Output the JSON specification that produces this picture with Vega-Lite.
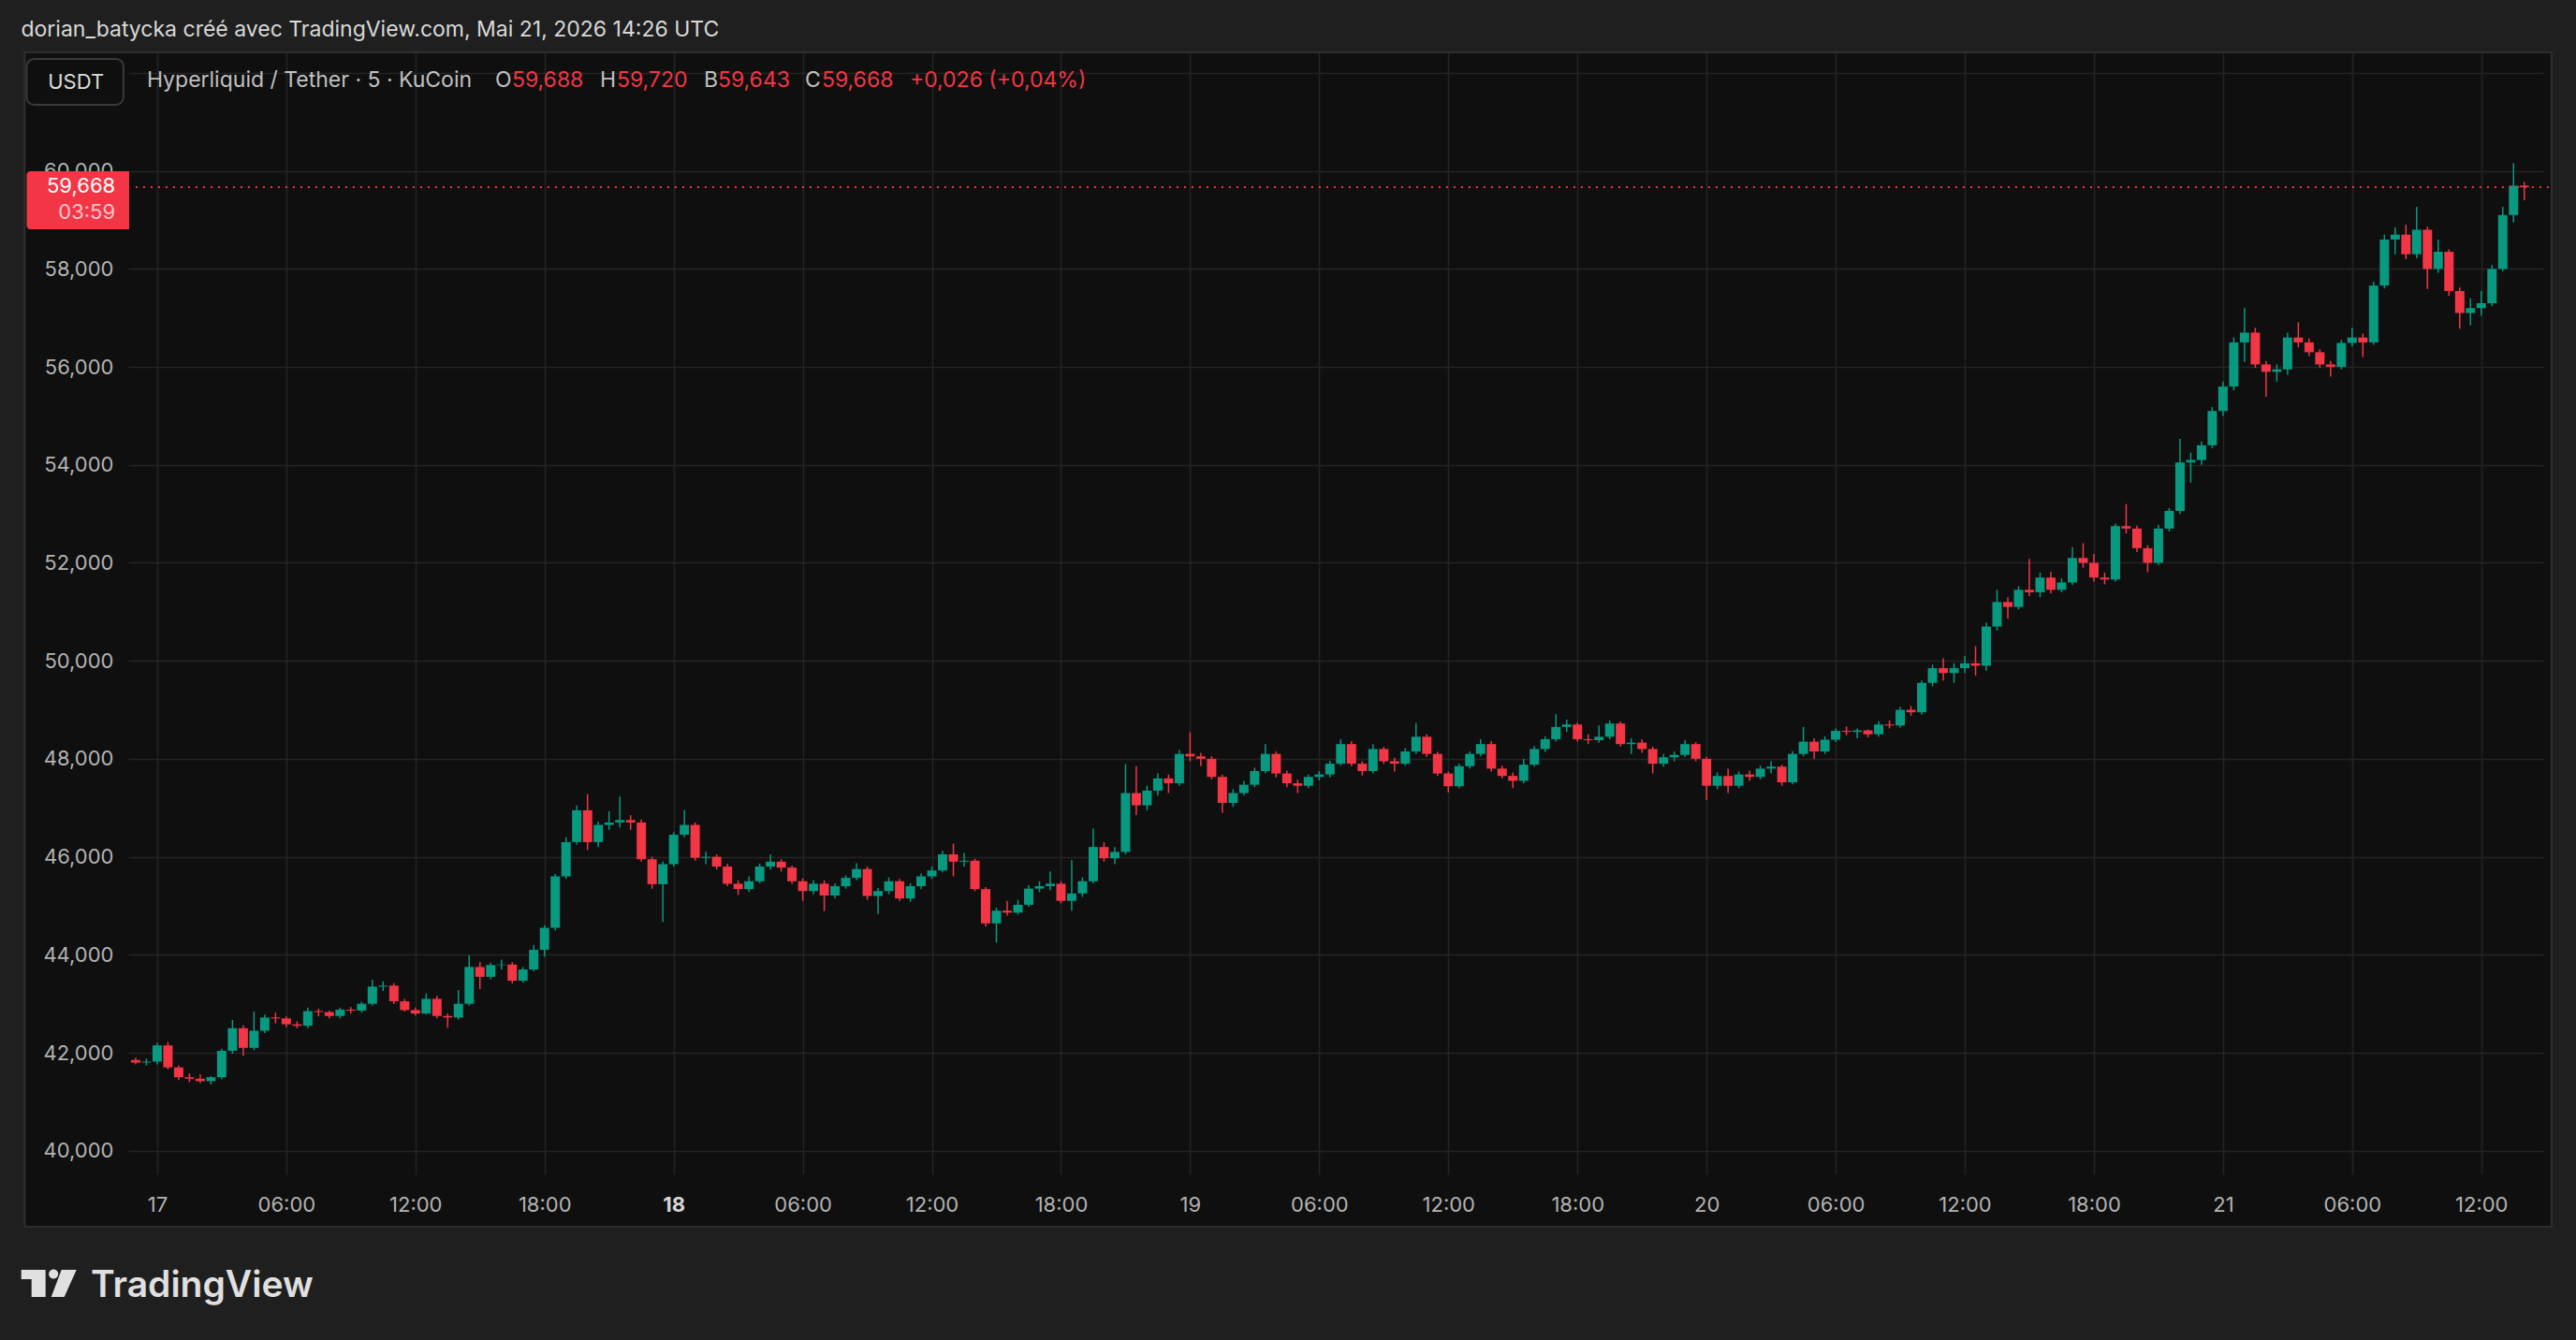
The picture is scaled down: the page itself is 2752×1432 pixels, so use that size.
{
  "$schema": "https://vega.github.io/schema/vega-lite/v6.json",
  "width": 2580,
  "height": 1199,
  "autosize": {"type": "none"},
  "padding": {"left": 137, "top": 56, "right": 35, "bottom": 177},
  "background": "#0f0f0f",
  "datasets": {
    "candles": [
      {"t":"2026-05-16T23:00","o":41.85,"h":41.90,"l":41.76,"c":41.80},
      {"t":"2026-05-16T23:30","o":41.80,"h":41.88,"l":41.74,"c":41.82},
      {"t":"2026-05-17T00:00","o":41.82,"h":42.20,"l":41.76,"c":42.15},
      {"t":"2026-05-17T00:30","o":42.15,"h":42.22,"l":41.66,"c":41.70},
      {"t":"2026-05-17T01:00","o":41.70,"h":41.74,"l":41.44,"c":41.50},
      {"t":"2026-05-17T01:30","o":41.50,"h":41.58,"l":41.40,"c":41.47},
      {"t":"2026-05-17T02:00","o":41.47,"h":41.56,"l":41.38,"c":41.42},
      {"t":"2026-05-17T02:30","o":41.42,"h":41.52,"l":41.35,"c":41.50},
      {"t":"2026-05-17T03:00","o":41.50,"h":42.08,"l":41.46,"c":42.04},
      {"t":"2026-05-17T03:30","o":42.04,"h":42.67,"l":41.98,"c":42.50},
      {"t":"2026-05-17T04:00","o":42.50,"h":42.56,"l":41.94,"c":42.10},
      {"t":"2026-05-17T04:30","o":42.10,"h":42.84,"l":42.05,"c":42.45},
      {"t":"2026-05-17T05:00","o":42.45,"h":42.78,"l":42.40,"c":42.72},
      {"t":"2026-05-17T05:30","o":42.72,"h":42.82,"l":42.60,"c":42.70},
      {"t":"2026-05-17T06:00","o":42.70,"h":42.74,"l":42.52,"c":42.58},
      {"t":"2026-05-17T06:30","o":42.58,"h":42.64,"l":42.50,"c":42.55},
      {"t":"2026-05-17T07:00","o":42.55,"h":42.92,"l":42.50,"c":42.85},
      {"t":"2026-05-17T07:30","o":42.85,"h":42.90,"l":42.74,"c":42.83},
      {"t":"2026-05-17T08:00","o":42.83,"h":42.86,"l":42.70,"c":42.75},
      {"t":"2026-05-17T08:30","o":42.75,"h":42.92,"l":42.70,"c":42.88},
      {"t":"2026-05-17T09:00","o":42.88,"h":42.93,"l":42.80,"c":42.86},
      {"t":"2026-05-17T09:30","o":42.86,"h":43.04,"l":42.82,"c":43.00},
      {"t":"2026-05-17T10:00","o":43.00,"h":43.49,"l":42.96,"c":43.35},
      {"t":"2026-05-17T10:30","o":43.35,"h":43.46,"l":43.26,"c":43.37},
      {"t":"2026-05-17T11:00","o":43.37,"h":43.42,"l":43.00,"c":43.05},
      {"t":"2026-05-17T11:30","o":43.05,"h":43.10,"l":42.84,"c":42.87},
      {"t":"2026-05-17T12:00","o":42.87,"h":42.92,"l":42.76,"c":42.80},
      {"t":"2026-05-17T12:30","o":42.80,"h":43.21,"l":42.78,"c":43.10},
      {"t":"2026-05-17T13:00","o":43.10,"h":43.16,"l":42.70,"c":42.75},
      {"t":"2026-05-17T13:30","o":42.75,"h":42.80,"l":42.51,"c":42.72},
      {"t":"2026-05-17T14:00","o":42.72,"h":43.28,"l":42.68,"c":43.00},
      {"t":"2026-05-17T14:30","o":43.00,"h":43.99,"l":42.96,"c":43.75},
      {"t":"2026-05-17T15:00","o":43.75,"h":43.85,"l":43.30,"c":43.55},
      {"t":"2026-05-17T15:30","o":43.55,"h":43.84,"l":43.50,"c":43.79},
      {"t":"2026-05-17T16:00","o":43.79,"h":43.90,"l":43.70,"c":43.80},
      {"t":"2026-05-17T16:30","o":43.80,"h":43.85,"l":43.42,"c":43.47},
      {"t":"2026-05-17T17:00","o":43.47,"h":43.75,"l":43.43,"c":43.70},
      {"t":"2026-05-17T17:30","o":43.70,"h":44.20,"l":43.66,"c":44.10},
      {"t":"2026-05-17T18:00","o":44.10,"h":44.60,"l":43.96,"c":44.55},
      {"t":"2026-05-17T18:30","o":44.55,"h":45.65,"l":44.50,"c":45.60},
      {"t":"2026-05-17T19:00","o":45.60,"h":46.40,"l":45.55,"c":46.30},
      {"t":"2026-05-17T19:30","o":46.30,"h":47.05,"l":46.25,"c":46.95},
      {"t":"2026-05-17T20:00","o":46.95,"h":47.28,"l":46.14,"c":46.30},
      {"t":"2026-05-17T20:30","o":46.30,"h":46.72,"l":46.20,"c":46.65},
      {"t":"2026-05-17T21:00","o":46.65,"h":46.93,"l":46.55,"c":46.70},
      {"t":"2026-05-17T21:30","o":46.70,"h":47.23,"l":46.60,"c":46.75},
      {"t":"2026-05-17T22:00","o":46.75,"h":46.85,"l":46.55,"c":46.70},
      {"t":"2026-05-17T22:30","o":46.70,"h":46.76,"l":45.90,"c":45.95},
      {"t":"2026-05-17T23:00","o":45.95,"h":46.00,"l":45.35,"c":45.44},
      {"t":"2026-05-17T23:30","o":45.44,"h":45.90,"l":44.67,"c":45.85},
      {"t":"2026-05-18T00:00","o":45.85,"h":46.50,"l":45.80,"c":46.45},
      {"t":"2026-05-18T00:30","o":46.45,"h":46.95,"l":46.40,"c":46.65},
      {"t":"2026-05-18T01:00","o":46.65,"h":46.70,"l":45.92,"c":45.98},
      {"t":"2026-05-18T01:30","o":45.98,"h":46.10,"l":45.85,"c":46.00},
      {"t":"2026-05-18T02:00","o":46.00,"h":46.05,"l":45.74,"c":45.80},
      {"t":"2026-05-18T02:30","o":45.80,"h":45.86,"l":45.40,"c":45.45},
      {"t":"2026-05-18T03:00","o":45.45,"h":45.52,"l":45.22,"c":45.34},
      {"t":"2026-05-18T03:30","o":45.34,"h":45.60,"l":45.28,"c":45.50},
      {"t":"2026-05-18T04:00","o":45.50,"h":45.86,"l":45.46,"c":45.80},
      {"t":"2026-05-18T04:30","o":45.80,"h":46.05,"l":45.74,"c":45.90},
      {"t":"2026-05-18T05:00","o":45.90,"h":45.95,"l":45.70,"c":45.78},
      {"t":"2026-05-18T05:30","o":45.78,"h":45.82,"l":45.45,"c":45.50},
      {"t":"2026-05-18T06:00","o":45.50,"h":45.56,"l":45.10,"c":45.30},
      {"t":"2026-05-18T06:30","o":45.30,"h":45.52,"l":45.24,"c":45.45},
      {"t":"2026-05-18T07:00","o":45.45,"h":45.52,"l":44.89,"c":45.21},
      {"t":"2026-05-18T07:30","o":45.21,"h":45.46,"l":45.15,"c":45.40},
      {"t":"2026-05-18T08:00","o":45.40,"h":45.62,"l":45.35,"c":45.57},
      {"t":"2026-05-18T08:30","o":45.57,"h":45.87,"l":45.52,"c":45.75},
      {"t":"2026-05-18T09:00","o":45.75,"h":45.80,"l":45.12,"c":45.20},
      {"t":"2026-05-18T09:30","o":45.20,"h":45.36,"l":44.83,"c":45.30},
      {"t":"2026-05-18T10:00","o":45.30,"h":45.58,"l":45.24,"c":45.50},
      {"t":"2026-05-18T10:30","o":45.50,"h":45.55,"l":45.10,"c":45.15},
      {"t":"2026-05-18T11:00","o":45.15,"h":45.46,"l":45.08,"c":45.40},
      {"t":"2026-05-18T11:30","o":45.40,"h":45.66,"l":45.34,"c":45.60},
      {"t":"2026-05-18T12:00","o":45.60,"h":45.80,"l":45.55,"c":45.72},
      {"t":"2026-05-18T12:30","o":45.72,"h":46.12,"l":45.68,"c":46.05},
      {"t":"2026-05-18T13:00","o":46.05,"h":46.27,"l":45.60,"c":45.90},
      {"t":"2026-05-18T13:30","o":45.90,"h":46.08,"l":45.80,"c":45.92},
      {"t":"2026-05-18T14:00","o":45.92,"h":45.96,"l":45.30,"c":45.34},
      {"t":"2026-05-18T14:30","o":45.34,"h":45.38,"l":44.58,"c":44.64},
      {"t":"2026-05-18T15:00","o":44.64,"h":44.96,"l":44.25,"c":44.90},
      {"t":"2026-05-18T15:30","o":44.90,"h":45.10,"l":44.80,"c":44.86},
      {"t":"2026-05-18T16:00","o":44.86,"h":45.12,"l":44.82,"c":45.02},
      {"t":"2026-05-18T16:30","o":45.02,"h":45.42,"l":44.98,"c":45.35},
      {"t":"2026-05-18T17:00","o":45.35,"h":45.50,"l":45.28,"c":45.40},
      {"t":"2026-05-18T17:30","o":45.40,"h":45.70,"l":45.32,"c":45.45},
      {"t":"2026-05-18T18:00","o":45.45,"h":45.50,"l":45.05,"c":45.10},
      {"t":"2026-05-18T18:30","o":45.10,"h":45.93,"l":44.90,"c":45.25},
      {"t":"2026-05-18T19:00","o":45.25,"h":45.58,"l":45.18,"c":45.50},
      {"t":"2026-05-18T19:30","o":45.50,"h":46.58,"l":45.46,"c":46.20},
      {"t":"2026-05-18T20:00","o":46.20,"h":46.30,"l":45.90,"c":45.97},
      {"t":"2026-05-18T20:30","o":45.97,"h":46.20,"l":45.85,"c":46.10},
      {"t":"2026-05-18T21:00","o":46.10,"h":47.89,"l":46.05,"c":47.30},
      {"t":"2026-05-18T21:30","o":47.30,"h":47.85,"l":46.85,"c":47.05},
      {"t":"2026-05-18T22:00","o":47.05,"h":47.45,"l":46.95,"c":47.35},
      {"t":"2026-05-18T22:30","o":47.35,"h":47.70,"l":47.25,"c":47.60},
      {"t":"2026-05-18T23:00","o":47.60,"h":47.68,"l":47.30,"c":47.50},
      {"t":"2026-05-18T23:30","o":47.50,"h":48.18,"l":47.45,"c":48.10},
      {"t":"2026-05-19T00:00","o":48.10,"h":48.54,"l":47.95,"c":48.05},
      {"t":"2026-05-19T00:30","o":48.05,"h":48.12,"l":47.85,"c":48.00},
      {"t":"2026-05-19T01:00","o":48.00,"h":48.05,"l":47.58,"c":47.63},
      {"t":"2026-05-19T01:30","o":47.63,"h":47.68,"l":46.90,"c":47.10},
      {"t":"2026-05-19T02:00","o":47.10,"h":47.38,"l":47.02,"c":47.30},
      {"t":"2026-05-19T02:30","o":47.30,"h":47.55,"l":47.25,"c":47.47},
      {"t":"2026-05-19T03:00","o":47.47,"h":47.82,"l":47.42,"c":47.75},
      {"t":"2026-05-19T03:30","o":47.75,"h":48.30,"l":47.70,"c":48.10},
      {"t":"2026-05-19T04:00","o":48.10,"h":48.15,"l":47.62,"c":47.70},
      {"t":"2026-05-19T04:30","o":47.70,"h":47.76,"l":47.42,"c":47.50},
      {"t":"2026-05-19T05:00","o":47.50,"h":47.57,"l":47.30,"c":47.45},
      {"t":"2026-05-19T05:30","o":47.45,"h":47.68,"l":47.40,"c":47.63},
      {"t":"2026-05-19T06:00","o":47.63,"h":47.75,"l":47.56,"c":47.68},
      {"t":"2026-05-19T06:30","o":47.68,"h":47.96,"l":47.62,"c":47.90},
      {"t":"2026-05-19T07:00","o":47.90,"h":48.40,"l":47.86,"c":48.30},
      {"t":"2026-05-19T07:30","o":48.30,"h":48.36,"l":47.85,"c":47.90},
      {"t":"2026-05-19T08:00","o":47.90,"h":47.95,"l":47.66,"c":47.75},
      {"t":"2026-05-19T08:30","o":47.75,"h":48.30,"l":47.70,"c":48.20},
      {"t":"2026-05-19T09:00","o":48.20,"h":48.24,"l":47.90,"c":47.95},
      {"t":"2026-05-19T09:30","o":47.95,"h":48.02,"l":47.74,"c":47.90},
      {"t":"2026-05-19T10:00","o":47.90,"h":48.22,"l":47.86,"c":48.15},
      {"t":"2026-05-19T10:30","o":48.15,"h":48.73,"l":48.10,"c":48.45},
      {"t":"2026-05-19T11:00","o":48.45,"h":48.50,"l":48.04,"c":48.10},
      {"t":"2026-05-19T11:30","o":48.10,"h":48.14,"l":47.65,"c":47.70},
      {"t":"2026-05-19T12:00","o":47.70,"h":47.74,"l":47.31,"c":47.44},
      {"t":"2026-05-19T12:30","o":47.44,"h":47.90,"l":47.40,"c":47.85},
      {"t":"2026-05-19T13:00","o":47.85,"h":48.15,"l":47.80,"c":48.10},
      {"t":"2026-05-19T13:30","o":48.10,"h":48.40,"l":48.05,"c":48.30},
      {"t":"2026-05-19T14:00","o":48.30,"h":48.36,"l":47.74,"c":47.80},
      {"t":"2026-05-19T14:30","o":47.80,"h":47.86,"l":47.60,"c":47.65},
      {"t":"2026-05-19T15:00","o":47.65,"h":47.72,"l":47.40,"c":47.55},
      {"t":"2026-05-19T15:30","o":47.55,"h":48.00,"l":47.50,"c":47.88},
      {"t":"2026-05-19T16:00","o":47.88,"h":48.26,"l":47.84,"c":48.20},
      {"t":"2026-05-19T16:30","o":48.20,"h":48.46,"l":48.14,"c":48.40},
      {"t":"2026-05-19T17:00","o":48.40,"h":48.91,"l":48.35,"c":48.65},
      {"t":"2026-05-19T17:30","o":48.65,"h":48.80,"l":48.55,"c":48.70},
      {"t":"2026-05-19T18:00","o":48.70,"h":48.74,"l":48.35,"c":48.40},
      {"t":"2026-05-19T18:30","o":48.40,"h":48.50,"l":48.30,"c":48.38},
      {"t":"2026-05-19T19:00","o":48.38,"h":48.68,"l":48.33,"c":48.45},
      {"t":"2026-05-19T19:30","o":48.45,"h":48.78,"l":48.40,"c":48.72},
      {"t":"2026-05-19T20:00","o":48.72,"h":48.76,"l":48.25,"c":48.30},
      {"t":"2026-05-19T20:30","o":48.30,"h":48.42,"l":48.10,"c":48.33},
      {"t":"2026-05-19T21:00","o":48.33,"h":48.40,"l":48.12,"c":48.20},
      {"t":"2026-05-19T21:30","o":48.20,"h":48.25,"l":47.70,"c":47.90},
      {"t":"2026-05-19T22:00","o":47.90,"h":48.10,"l":47.84,"c":48.03},
      {"t":"2026-05-19T22:30","o":48.03,"h":48.15,"l":47.95,"c":48.08},
      {"t":"2026-05-19T23:00","o":48.08,"h":48.38,"l":48.04,"c":48.30},
      {"t":"2026-05-19T23:30","o":48.30,"h":48.34,"l":47.95,"c":48.00},
      {"t":"2026-05-20T00:00","o":48.00,"h":48.04,"l":47.16,"c":47.45},
      {"t":"2026-05-20T00:30","o":47.45,"h":47.72,"l":47.38,"c":47.65},
      {"t":"2026-05-20T01:00","o":47.65,"h":47.80,"l":47.30,"c":47.45},
      {"t":"2026-05-20T01:30","o":47.45,"h":47.74,"l":47.40,"c":47.68},
      {"t":"2026-05-20T02:00","o":47.68,"h":47.76,"l":47.55,"c":47.63},
      {"t":"2026-05-20T02:30","o":47.63,"h":47.86,"l":47.58,"c":47.80},
      {"t":"2026-05-20T03:00","o":47.80,"h":47.95,"l":47.70,"c":47.84},
      {"t":"2026-05-20T03:30","o":47.84,"h":47.88,"l":47.45,"c":47.52},
      {"t":"2026-05-20T04:00","o":47.52,"h":48.16,"l":47.48,"c":48.10},
      {"t":"2026-05-20T04:30","o":48.10,"h":48.65,"l":48.05,"c":48.35},
      {"t":"2026-05-20T05:00","o":48.35,"h":48.42,"l":48.00,"c":48.15},
      {"t":"2026-05-20T05:30","o":48.15,"h":48.46,"l":48.10,"c":48.39},
      {"t":"2026-05-20T06:00","o":48.39,"h":48.62,"l":48.34,"c":48.57},
      {"t":"2026-05-20T06:30","o":48.57,"h":48.66,"l":48.48,"c":48.55},
      {"t":"2026-05-20T07:00","o":48.55,"h":48.62,"l":48.42,"c":48.58},
      {"t":"2026-05-20T07:30","o":48.58,"h":48.60,"l":48.44,"c":48.50},
      {"t":"2026-05-20T08:00","o":48.50,"h":48.76,"l":48.45,"c":48.70},
      {"t":"2026-05-20T08:30","o":48.70,"h":48.78,"l":48.62,"c":48.68},
      {"t":"2026-05-20T09:00","o":48.68,"h":49.06,"l":48.64,"c":49.00},
      {"t":"2026-05-20T09:30","o":49.00,"h":49.08,"l":48.88,"c":48.95},
      {"t":"2026-05-20T10:00","o":48.95,"h":49.60,"l":48.90,"c":49.55},
      {"t":"2026-05-20T10:30","o":49.55,"h":49.92,"l":49.48,"c":49.85},
      {"t":"2026-05-20T11:00","o":49.85,"h":50.05,"l":49.60,"c":49.75},
      {"t":"2026-05-20T11:30","o":49.75,"h":49.95,"l":49.55,"c":49.85},
      {"t":"2026-05-20T12:00","o":49.85,"h":50.10,"l":49.75,"c":49.95},
      {"t":"2026-05-20T12:30","o":49.95,"h":50.30,"l":49.70,"c":49.90},
      {"t":"2026-05-20T13:00","o":49.90,"h":50.78,"l":49.80,"c":50.70},
      {"t":"2026-05-20T13:30","o":50.70,"h":51.45,"l":50.62,"c":51.20},
      {"t":"2026-05-20T14:00","o":51.20,"h":51.30,"l":50.86,"c":51.10},
      {"t":"2026-05-20T14:30","o":51.10,"h":51.52,"l":51.05,"c":51.45},
      {"t":"2026-05-20T15:00","o":51.45,"h":52.08,"l":51.32,"c":51.40},
      {"t":"2026-05-20T15:30","o":51.40,"h":51.80,"l":51.30,"c":51.70},
      {"t":"2026-05-20T16:00","o":51.70,"h":51.82,"l":51.38,"c":51.45},
      {"t":"2026-05-20T16:30","o":51.45,"h":51.68,"l":51.40,"c":51.60},
      {"t":"2026-05-20T17:00","o":51.60,"h":52.32,"l":51.55,"c":52.10},
      {"t":"2026-05-20T17:30","o":52.10,"h":52.40,"l":51.90,"c":52.00},
      {"t":"2026-05-20T18:00","o":52.00,"h":52.18,"l":51.62,"c":51.70},
      {"t":"2026-05-20T18:30","o":51.70,"h":51.80,"l":51.56,"c":51.66},
      {"t":"2026-05-20T19:00","o":51.66,"h":52.80,"l":51.62,"c":52.75},
      {"t":"2026-05-20T19:30","o":52.75,"h":53.20,"l":52.60,"c":52.70},
      {"t":"2026-05-20T20:00","o":52.70,"h":52.76,"l":52.22,"c":52.30},
      {"t":"2026-05-20T20:30","o":52.30,"h":52.36,"l":51.81,"c":52.00},
      {"t":"2026-05-20T21:00","o":52.00,"h":52.78,"l":51.95,"c":52.70},
      {"t":"2026-05-20T21:30","o":52.70,"h":53.12,"l":52.64,"c":53.06},
      {"t":"2026-05-20T22:00","o":53.06,"h":54.53,"l":53.00,"c":54.05},
      {"t":"2026-05-20T22:30","o":54.05,"h":54.25,"l":53.64,"c":54.10},
      {"t":"2026-05-20T23:00","o":54.10,"h":54.48,"l":54.00,"c":54.40},
      {"t":"2026-05-20T23:30","o":54.40,"h":55.18,"l":54.34,"c":55.10},
      {"t":"2026-05-21T00:00","o":55.10,"h":55.70,"l":55.00,"c":55.60},
      {"t":"2026-05-21T00:30","o":55.60,"h":56.60,"l":55.52,"c":56.50},
      {"t":"2026-05-21T01:00","o":56.50,"h":57.20,"l":56.10,"c":56.70},
      {"t":"2026-05-21T01:30","o":56.70,"h":56.80,"l":55.98,"c":56.05},
      {"t":"2026-05-21T02:00","o":56.05,"h":56.12,"l":55.39,"c":55.90},
      {"t":"2026-05-21T02:30","o":55.90,"h":56.05,"l":55.70,"c":55.95},
      {"t":"2026-05-21T03:00","o":55.95,"h":56.70,"l":55.84,"c":56.60},
      {"t":"2026-05-21T03:30","o":56.60,"h":56.91,"l":56.40,"c":56.50},
      {"t":"2026-05-21T04:00","o":56.50,"h":56.58,"l":56.22,"c":56.30},
      {"t":"2026-05-21T04:30","o":56.30,"h":56.36,"l":55.98,"c":56.05},
      {"t":"2026-05-21T05:00","o":56.05,"h":56.12,"l":55.80,"c":56.00},
      {"t":"2026-05-21T05:30","o":56.00,"h":56.55,"l":55.95,"c":56.49},
      {"t":"2026-05-21T06:00","o":56.49,"h":56.80,"l":56.42,"c":56.60},
      {"t":"2026-05-21T06:30","o":56.60,"h":56.68,"l":56.20,"c":56.50},
      {"t":"2026-05-21T07:00","o":56.50,"h":57.74,"l":56.45,"c":57.66},
      {"t":"2026-05-21T07:30","o":57.66,"h":58.70,"l":57.60,"c":58.60},
      {"t":"2026-05-21T08:00","o":58.60,"h":58.85,"l":58.30,"c":58.70},
      {"t":"2026-05-21T08:30","o":58.70,"h":58.90,"l":58.20,"c":58.30},
      {"t":"2026-05-21T09:00","o":58.30,"h":59.27,"l":58.22,"c":58.80},
      {"t":"2026-05-21T09:30","o":58.80,"h":58.86,"l":57.59,"c":58.00},
      {"t":"2026-05-21T10:00","o":58.00,"h":58.60,"l":57.92,"c":58.35},
      {"t":"2026-05-21T10:30","o":58.35,"h":58.40,"l":57.45,"c":57.55},
      {"t":"2026-05-21T11:00","o":57.55,"h":57.62,"l":56.78,"c":57.10},
      {"t":"2026-05-21T11:30","o":57.10,"h":57.40,"l":56.85,"c":57.20},
      {"t":"2026-05-21T12:00","o":57.20,"h":57.55,"l":57.05,"c":57.30},
      {"t":"2026-05-21T12:30","o":57.30,"h":58.08,"l":57.24,"c":58.00},
      {"t":"2026-05-21T13:00","o":58.00,"h":59.27,"l":57.95,"c":59.10},
      {"t":"2026-05-21T13:30","o":59.10,"h":60.16,"l":58.95,"c":59.70},
      {"t":"2026-05-21T14:00","o":59.70,"h":59.78,"l":59.40,"c":59.668}
    ],
    "last": [{"o": 59.688, "h": 59.72, "l": 59.643, "c": 59.668}]
  },
  "layer": [
    {
      "data": {"name": "last"},
      "mark": {"type": "rect", "color": "#1f1f1f"},
      "encoding": {
        "x": {"datum": {"year": 2026, "month": 5, "date": 16, "hours": 16, "minutes": 0}, "type": "temporal"},
        "x2": {"datum": {"year": 2026, "month": 5, "date": 21, "hours": 17, "minutes": 0}},
        "y": {"datum": 62.42, "type": "quantitative"},
        "y2": {"datum": 63.7}
      }
    },
    {
      "data": {"name": "last"},
      "mark": {"type": "rect", "color": "#1f1f1f"},
      "encoding": {
        "x": {"datum": {"year": 2026, "month": 5, "date": 16, "hours": 16, "minutes": 0}, "type": "temporal"},
        "x2": {"datum": {"year": 2026, "month": 5, "date": 21, "hours": 17, "minutes": 0}},
        "y": {"datum": 38.447, "type": "quantitative"},
        "y2": {"datum": 35.8}
      }
    },
    {
      "data": {"name": "last"},
      "mark": {"type": "rect", "color": "#1f1f1f"},
      "encoding": {
        "x": {"datum": {"year": 2026, "month": 5, "date": 16, "hours": 16, "minutes": 0}, "type": "temporal"},
        "x2": {"datum": {"year": 2026, "month": 5, "date": 16, "hours": 17, "minutes": 50, "seconds": 48}},
        "y": {"datum": 62.42, "type": "quantitative"},
        "y2": {"datum": 38.447}
      }
    },
    {
      "data": {"name": "last"},
      "mark": {"type": "rect", "color": "#1f1f1f"},
      "encoding": {
        "x": {"datum": {"year": 2026, "month": 5, "date": 21, "hours": 15, "minutes": 16, "seconds": 12}, "type": "temporal"},
        "x2": {"datum": {"year": 2026, "month": 5, "date": 21, "hours": 17, "minutes": 0}},
        "y": {"datum": 62.42, "type": "quantitative"},
        "y2": {"datum": 38.447}
      }
    },
    {
      "data": {"name": "last"},
      "mark": {"type": "rect", "fillOpacity": 0, "stroke": "#2e2e2e", "strokeWidth": 2},
      "encoding": {
        "x": {"datum": {"year": 2026, "month": 5, "date": 16, "hours": 17, "minutes": 50, "seconds": 48}, "type": "temporal"},
        "x2": {"datum": {"year": 2026, "month": 5, "date": 21, "hours": 15, "minutes": 16, "seconds": 12}},
        "y": {"datum": 62.42, "type": "quantitative"},
        "y2": {"datum": 38.447}
      }
    },
    {
      "data": {"name": "candles"},
      "layer": [
        {
          "mark": {"type": "rule", "strokeWidth": 1.5},
          "encoding": {
            "x": {
              "field": "t",
              "type": "temporal",
              "scale": {
                "domain": [
                  {"year": 2026, "month": 5, "date": 16, "hours": 22, "minutes": 52, "seconds": 24},
                  {"year": 2026, "month": 5, "date": 21, "hours": 14, "minutes": 39, "seconds": 48}
                ],
                "nice": false
              },
              "axis": {
                "title": null,
                "grid": true,
                "gridColor": "#242424",
                "gridWidth": 1.5,
                "domain": false,
                "ticks": false,
                "labelPadding": 32,
                "labelBaseline": "middle",
                "labelFontSize": 22,
                "labelColor": {
                  "condition": {"test": "hours(datum.value) == 0 && date(datum.value) == 18", "value": "#d6d6d6"},
                  "value": "#b3b3b3"
                },
                "labelFontWeight": {
                  "condition": {"test": "hours(datum.value) == 0 && date(datum.value) == 18", "value": "bold"},
                  "value": "normal"
                },
                "labelFlush": false,
                "labelOverlap": false,
                "values": [
                  {"year": 2026, "month": 5, "date": 17, "hours": 0},
                  {"year": 2026, "month": 5, "date": 17, "hours": 6},
                  {"year": 2026, "month": 5, "date": 17, "hours": 12},
                  {"year": 2026, "month": 5, "date": 17, "hours": 18},
                  {"year": 2026, "month": 5, "date": 18, "hours": 0},
                  {"year": 2026, "month": 5, "date": 18, "hours": 6},
                  {"year": 2026, "month": 5, "date": 18, "hours": 12},
                  {"year": 2026, "month": 5, "date": 18, "hours": 18},
                  {"year": 2026, "month": 5, "date": 19, "hours": 0},
                  {"year": 2026, "month": 5, "date": 19, "hours": 6},
                  {"year": 2026, "month": 5, "date": 19, "hours": 12},
                  {"year": 2026, "month": 5, "date": 19, "hours": 18},
                  {"year": 2026, "month": 5, "date": 20, "hours": 0},
                  {"year": 2026, "month": 5, "date": 20, "hours": 6},
                  {"year": 2026, "month": 5, "date": 20, "hours": 12},
                  {"year": 2026, "month": 5, "date": 20, "hours": 18},
                  {"year": 2026, "month": 5, "date": 21, "hours": 0},
                  {"year": 2026, "month": 5, "date": 21, "hours": 6},
                  {"year": 2026, "month": 5, "date": 21, "hours": 12}
                ],
                "labelExpr": "hours(datum.value) == 0 ? timeFormat(datum.value, '%-d') : timeFormat(datum.value, '%H:%M')"
              }
            },
            "y": {
              "field": "l",
              "type": "quantitative",
              "scale": {"domain": [39.517, 62.42], "nice": false, "zero": false},
              "axis": {
                "title": null,
                "grid": true,
                "gridColor": "#242424",
                "gridWidth": 1.5,
                "domain": false,
                "ticks": false,
                "labelPadding": 16,
                "labelBaseline": "middle",
                "labelFontSize": 22,
                "labelColor": "#b3b3b3",
                "values": [40, 42, 44, 46, 48, 50, 52, 54, 56, 58, 60, 62],
                "labelExpr": "datum.value > 61 ? '' : replace(format(datum.value, '.3f'), '.', ',')"
              }
            },
            "y2": {"field": "h"},
            "color": {
              "condition": {"test": "datum.c >= datum.o", "value": "#089981"},
              "value": "#f23645"
            }
          }
        },
        {
          "mark": {"type": "bar", "width": 10},
          "encoding": {
            "x": {"field": "t", "type": "temporal"},
            "y": {"field": "o", "type": "quantitative"},
            "y2": {"field": "c"},
            "color": {
              "condition": {"test": "datum.c >= datum.o", "value": "#089981"},
              "value": "#f23645"
            }
          }
        }
      ]
    },
    {
      "data": {"name": "last"},
      "layer": [
        {
          "mark": {"type": "rule", "color": "#f23645", "strokeWidth": 2, "strokeDash": [2, 6]},
          "encoding": {
            "y": {"field": "c", "type": "quantitative"},
            "x": {"datum": {"year": 2026, "month": 5, "date": 16, "hours": 23, "minutes": 0}, "type": "temporal"},
            "x2": {"datum": {"year": 2026, "month": 5, "date": 21, "hours": 15, "minutes": 14}}
          }
        },
        {
          "mark": {"type": "rect", "color": "#f23645", "cornerRadiusTopLeft": 4, "cornerRadiusBottomLeft": 4},
          "encoding": {
            "x": {"datum": {"year": 2026, "month": 5, "date": 16, "hours": 17, "minutes": 56}, "type": "temporal"},
            "x2": {"datum": {"year": 2026, "month": 5, "date": 16, "hours": 22, "minutes": 42}},
            "y": {"datum": 59.994, "type": "quantitative"},
            "y2": {"datum": 58.81}
          }
        },
        {
          "mark": {"type": "text", "align": "right", "baseline": "middle", "fontSize": 22, "color": "#ffffff", "dy": -1, "dx": -3},
          "encoding": {
            "x": {"datum": {"year": 2026, "month": 5, "date": 16, "hours": 22, "minutes": 11}, "type": "temporal"},
            "y": {"field": "c", "type": "quantitative"},
            "text": {"field": "c", "type": "quantitative", "format": ".3f"}
          }
        },
        {
          "mark": {"type": "text", "align": "right", "baseline": "middle", "fontSize": 22, "color": "#fbc4c9", "dx": -3},
          "encoding": {
            "x": {"datum": {"year": 2026, "month": 5, "date": 16, "hours": 22, "minutes": 11}, "type": "temporal"},
            "y": {"datum": 59.154, "type": "quantitative"},
            "text": {"value": "03:59"}
          }
        },
        {
          "mark": {"type": "rect", "fill": "#0f0f0f", "stroke": "#3a3a3a", "strokeWidth": 2, "cornerRadius": 8},
          "encoding": {
            "x": {"datum": {"year": 2026, "month": 5, "date": 16, "hours": 17, "minutes": 56}, "type": "temporal"},
            "x2": {"datum": {"year": 2026, "month": 5, "date": 16, "hours": 22, "minutes": 26}},
            "y": {"datum": 62.287, "type": "quantitative"},
            "y2": {"datum": 61.351}
          }
        },
        {
          "mark": {"type": "text", "align": "center", "baseline": "middle", "fontSize": 22, "color": "#dcdcdc", "dx": -4},
          "encoding": {
            "x": {"datum": {"year": 2026, "month": 5, "date": 16, "hours": 20, "minutes": 24}, "type": "temporal"},
            "y": {"datum": 61.809, "type": "quantitative"},
            "text": {"value": "USDT"}
          }
        },
        {
          "mark": {"type": "text", "align": "left", "baseline": "middle", "fontSize": 23, "color": "#d9d9d9", "dx": -4},
          "encoding": {
            "x": {"datum": {"year": 2026, "month": 5, "date": 16, "hours": 17, "minutes": 50, "seconds": 48}, "type": "temporal"},
            "y": {"datum": 62.879, "type": "quantitative"},
            "text": {"value": "dorian_batycka créé avec TradingView.com, Mai 21, 2026 14:26 UTC"}
          }
        },
        {
          "mark": {"type": "text", "align": "left", "baseline": "middle", "fontSize": 23, "color": "#c0c0c0", "dx": 12},
          "encoding": {
            "x": {"datum": {"year": 2026, "month": 5, "date": 16, "hours": 23, "minutes": 0}, "type": "temporal"},
            "y": {"datum": 61.847, "type": "quantitative"},
            "text": {"value": "Hyperliquid / Tether · 5 · KuCoin"}
          }
        },
        {
          "mark": {"type": "text", "align": "left", "baseline": "middle", "fontSize": 23, "color": "#c0c0c0", "dx": 384},
          "encoding": {
            "x": {"datum": {"year": 2026, "month": 5, "date": 16, "hours": 23, "minutes": 0}, "type": "temporal"},
            "y": {"datum": 61.847, "type": "quantitative"},
            "text": {"value": "O"}
          }
        },
        {
          "mark": {"type": "text", "align": "left", "baseline": "middle", "fontSize": 23, "color": "#f23645", "dx": 402},
          "encoding": {
            "x": {"datum": {"year": 2026, "month": 5, "date": 16, "hours": 23, "minutes": 0}, "type": "temporal"},
            "y": {"datum": 61.847, "type": "quantitative"},
            "text": {"field": "o", "type": "quantitative", "format": ".3f"}
          }
        },
        {
          "mark": {"type": "text", "align": "left", "baseline": "middle", "fontSize": 23, "color": "#c0c0c0", "dx": 496},
          "encoding": {
            "x": {"datum": {"year": 2026, "month": 5, "date": 16, "hours": 23, "minutes": 0}, "type": "temporal"},
            "y": {"datum": 61.847, "type": "quantitative"},
            "text": {"value": "H"}
          }
        },
        {
          "mark": {"type": "text", "align": "left", "baseline": "middle", "fontSize": 23, "color": "#f23645", "dx": 514},
          "encoding": {
            "x": {"datum": {"year": 2026, "month": 5, "date": 16, "hours": 23, "minutes": 0}, "type": "temporal"},
            "y": {"datum": 61.847, "type": "quantitative"},
            "text": {"field": "h", "type": "quantitative", "format": ".3f"}
          }
        },
        {
          "mark": {"type": "text", "align": "left", "baseline": "middle", "fontSize": 23, "color": "#c0c0c0", "dx": 607},
          "encoding": {
            "x": {"datum": {"year": 2026, "month": 5, "date": 16, "hours": 23, "minutes": 0}, "type": "temporal"},
            "y": {"datum": 61.847, "type": "quantitative"},
            "text": {"value": "B"}
          }
        },
        {
          "mark": {"type": "text", "align": "left", "baseline": "middle", "fontSize": 23, "color": "#f23645", "dx": 622},
          "encoding": {
            "x": {"datum": {"year": 2026, "month": 5, "date": 16, "hours": 23, "minutes": 0}, "type": "temporal"},
            "y": {"datum": 61.847, "type": "quantitative"},
            "text": {"field": "l", "type": "quantitative", "format": ".3f"}
          }
        },
        {
          "mark": {"type": "text", "align": "left", "baseline": "middle", "fontSize": 23, "color": "#c0c0c0", "dx": 715},
          "encoding": {
            "x": {"datum": {"year": 2026, "month": 5, "date": 16, "hours": 23, "minutes": 0}, "type": "temporal"},
            "y": {"datum": 61.847, "type": "quantitative"},
            "text": {"value": "C"}
          }
        },
        {
          "mark": {"type": "text", "align": "left", "baseline": "middle", "fontSize": 23, "color": "#f23645", "dx": 733},
          "encoding": {
            "x": {"datum": {"year": 2026, "month": 5, "date": 16, "hours": 23, "minutes": 0}, "type": "temporal"},
            "y": {"datum": 61.847, "type": "quantitative"},
            "text": {"field": "c", "type": "quantitative", "format": ".3f"}
          }
        },
        {
          "mark": {"type": "text", "align": "left", "baseline": "middle", "fontSize": 23, "color": "#f23645", "dx": 827},
          "encoding": {
            "x": {"datum": {"year": 2026, "month": 5, "date": 16, "hours": 23, "minutes": 0}, "type": "temporal"},
            "y": {"datum": 61.847, "type": "quantitative"},
            "text": {"value": "+0,026 (+0,04%)"}
          }
        },
        {
          "mark": {
            "type": "point",
            "filled": true,
            "color": "#e0e0e0",
            "opacity": 1,
            "size": 3481,
            "shape": "M-1,-0.49L-0.119,-0.49L-0.119,0.49L-0.627,0.49L-0.627,-0.153L-1,-0.153ZM0.458,-0.49L1,-0.49L0.559,0.49L0.085,0.49ZM0.339,-0.339A0.17,0.17 0 1 1 -0.001,-0.339A0.17,0.17 0 1 1 0.339,-0.339Z"
          },
          "encoding": {
            "x": {"datum": {"year": 2026, "month": 5, "date": 16, "hours": 18, "minutes": 58}, "type": "temporal"},
            "y": {"datum": 37.291, "type": "quantitative"}
          }
        },
        {
          "mark": {"type": "text", "align": "left", "baseline": "alphabetic", "fontSize": 39, "fontWeight": 600, "color": "#e0e0e0"},
          "encoding": {
            "x": {"datum": {"year": 2026, "month": 5, "date": 16, "hours": 20, "minutes": 55}, "type": "temporal"},
            "y": {"datum": 37.014, "type": "quantitative"},
            "text": {"value": "TradingView"}
          }
        }
      ]
    }
  ],
  "config": {
    "font": "Inter",
    "view": {"fill": "#0f0f0f", "stroke": null},
    "locale": {
      "number": {"decimal": ",", "thousands": " ", "grouping": [3], "currency": ["", ""]}
    }
  }
}
